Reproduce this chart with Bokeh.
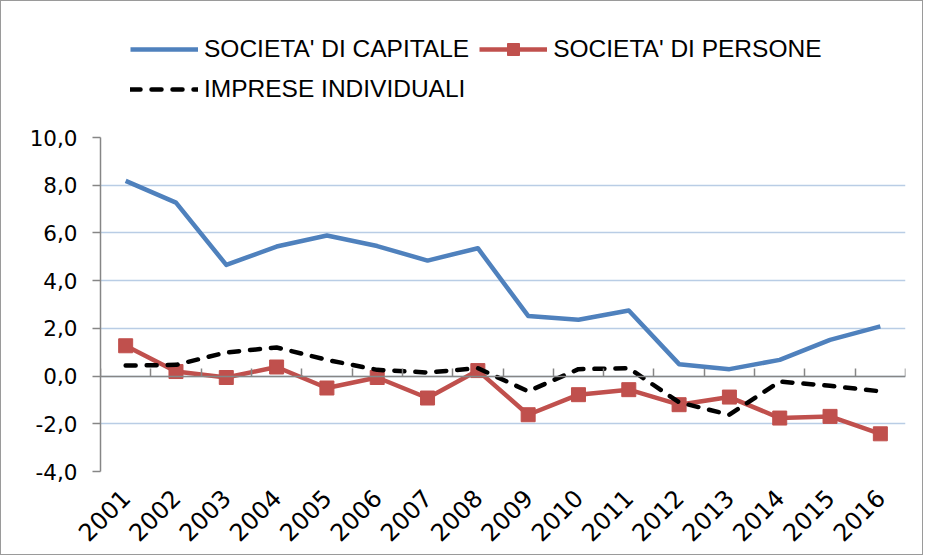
from bokeh.plotting import figure
from bokeh.layouts import column
from bokeh.models import (Range1d, FixedTicker, LinearAxis, Legend, LegendItem,
                          CustomJSTickFormatter)
from bokeh.embed import file_html
from bokeh.resources import INLINE
import math

years = ["2001", "2002", "2003", "2004", "2005", "2006", "2007", "2008",
         "2009", "2010", "2011", "2012", "2013", "2014", "2015", "2016"]
societa_capitale = [8.18, 7.27, 4.66, 5.43, 5.89, 5.45, 4.84, 5.36,
                    2.52, 2.36, 2.75, 0.50, 0.29, 0.68, 1.52, 2.08]
societa_persone = [1.27, 0.19, -0.06, 0.38, -0.50, -0.06, -0.92, 0.23,
                   -1.62, -0.78, -0.57, -1.20, -0.88, -1.76, -1.69, -2.42]
imprese_individuali = [0.44, 0.47, 0.99, 1.20, 0.68, 0.26, 0.15, 0.33,
                       -0.64, 0.29, 0.33, -1.10, -1.62, -0.23, -0.41, -0.64]
y_ticks = [-4, -2, 0, 2, 4, 6, 8, 10]
series_names = ["SOCIETA' DI CAPITALE", "SOCIETA' DI PERSONE", "IMPRESE INDIVIDUALI"]

n = len(years)
xs = list(range(1, n + 1))
boundaries = [i + 0.5 for i in range(n + 1)]

AX = "#868686"
GRID = "#B9CDE5"
BLUE = "#4F81BD"
RED = "#C0504D"
W = 921


def add_series(fig):
    a = fig.line(xs, societa_capitale, line_color=BLUE, line_width=4.5, line_join="round")
    b = fig.line(xs, societa_persone, line_color=RED, line_width=4.5, line_join="round")
    c = fig.scatter(xs, societa_persone, marker="square", size=14, fill_color=RED,
                    line_color=RED)
    d = fig.line(xs, imprese_individuali, line_color="black", line_width=4.5,
                 line_dash="10 11", line_cap="round", line_join="round")
    return a, b, c, d


# ---- legend strip (its ranges show none of the data; it only hosts the legend)
lg = figure(width=W, height=115, output_backend="svg", toolbar_location=None,
            x_range=Range1d(-3, -2), y_range=Range1d(100, 101),
            x_axis_type=None, y_axis_type=None,
            min_border_left=0, min_border_right=0, min_border_top=0,
            min_border_bottom=0)
lg.outline_line_color = None
lg.grid.grid_line_color = None
la, lb, lc, ld = add_series(lg)
legend = Legend(items=[LegendItem(label=series_names[0], renderers=[la]),
                       LegendItem(label=series_names[1], renderers=[lb, lc]),
                       LegendItem(label=series_names[2], renderers=[ld])],
                orientation="horizontal", ncols=2,
                location=(30, 12), padding=0, margin=0, spacing=10,
                glyph_width=68, glyph_height=30, label_standoff=6,
                label_text_font="Liberation Sans", label_text_font_size="24.5px",
                label_text_color="black",
                border_line_color=None, background_fill_alpha=0)
lg.add_layout(legend, "center")

# ---- main chart
p = figure(width=W, height=438, output_backend="svg", toolbar_location=None,
           x_range=Range1d(0.5, n + 0.5), y_range=Range1d(y_ticks[0], y_ticks[-1]),
           min_border_left=99, min_border_right=17, min_border_top=21,
           min_border_bottom=83)
p.outline_line_color = None
p.background_fill_color = "white"
p.border_fill_color = "white"

p.xgrid.grid_line_color = None
p.ygrid.grid_line_color = GRID
p.ygrid.grid_line_width = 1.5
p.ygrid.ticker = FixedTicker(ticks=y_ticks)

yax = p.yaxis[0]
yax.ticker = FixedTicker(ticks=y_ticks)
yax.formatter = CustomJSTickFormatter(code="return tick.toFixed(1).replace('.', ',');")
yax.axis_line_color = AX
yax.axis_line_width = 1.5
yax.major_tick_line_color = AX
yax.major_tick_line_width = 1.5
yax.major_tick_out = 8
yax.major_tick_in = 0
yax.minor_tick_line_color = None
yax.major_label_text_font = "DejaVu Sans"
yax.major_label_text_font_size = "21.5px"
yax.major_label_text_color = "black"
yax.major_label_standoff = 15

xax = p.xaxis[0]
xax.ticker = FixedTicker(ticks=xs)
xax.major_label_overrides = {x: y for x, y in zip(xs, years)}
xax.axis_line_color = None
xax.major_tick_line_color = None
xax.minor_tick_line_color = None
xax.major_label_orientation = math.pi / 4
xax.major_label_text_font = "DejaVu Sans"
xax.major_label_text_font_size = "24px"
xax.major_label_text_color = "black"
xax.major_label_standoff = 16

zax = LinearAxis(fixed_location=0, ticker=FixedTicker(ticks=boundaries),
                 axis_line_color=AX, axis_line_width=1.5,
                 major_tick_line_color=AX, major_tick_line_width=1.5,
                 major_tick_in=0, major_tick_out=8,
                 minor_tick_line_color=None,
                 formatter=CustomJSTickFormatter(code="return '';"))
p.add_layout(zax, "above")

add_series(p)

layout = column(lg, p, spacing=0)
layout.styles = {"border": "1.5px solid #9a9a9a"}

open("out.html", "w").write(file_html(layout, INLINE))
